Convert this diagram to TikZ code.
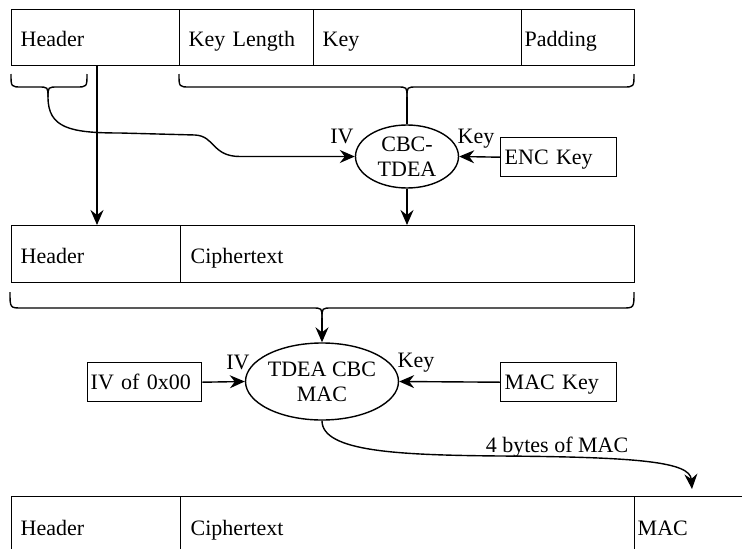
\documentclass[tikz,border=0pt]{standalone}
\usepackage{fontspec}
\setmainfont{Liberation Serif}
\usetikzlibrary{shapes.geometric,arrows.meta,calc}

\tikzset{
  ln/.style={line width=1.4pt},
  arr/.style={ln, -{Stealth[length=15pt,width=13pt,inset=5pt]}},
  cell/.style={ln, draw, anchor=north west, inner ysep=0pt,
    text height=18pt, text depth=0pt, align=left},
  smallbox/.style={ln, draw, anchor=north west, inner ysep=0pt,
    minimum height=39pt, text height=15pt, text depth=0pt, align=left},
  cipher/.style={ln, draw, ellipse, inner sep=0pt, align=center},
  lbl/.style={anchor=base, inner sep=0pt},
}

\begin{document}
\begin{tikzpicture}[x=1pt, y=-1pt, font=\fontsize{22}{25}\selectfont]
\clip (0,0) rectangle (742,549);

% ---- plaintext record ----
\node[cell, minimum height=56pt, inner xsep=9pt, text width=150pt] (r1h) at (11,9) {Header};
\node[cell, minimum height=56pt, inner xsep=9pt, text width=116pt] (r1l) at (179,9) {Key Length};
\node[cell, minimum height=56pt, inner xsep=9pt, text width=190pt] (r1k) at (313,9) {Key};
\node[cell, minimum height=56pt, inner xsep=3pt, text width=107pt] (r1p) at (521,9) {Padding};

% ---- encrypted record ----
\node[cell, minimum height=57pt, inner xsep=9pt, text width=151pt] (r2h) at (11,225) {Header};
\node[cell, minimum height=57pt, inner xsep=10pt, text width=434pt] (r2c) at (180,225) {Ciphertext};

% ---- record with MAC ----
\node[cell, minimum height=60pt, inner xsep=9pt, text width=151pt] (r3h) at (11,496) {Header};
\node[cell, minimum height=60pt, inner xsep=10pt, text width=434pt] (r3c) at (180,496) {Ciphertext};
\node[cell, minimum height=60pt, inner xsep=3pt, text width=160pt] (r3m) at (634,496) {MAC};

% ---- cipher blocks ----
\node[cipher, minimum width=103pt, minimum height=63pt] (e1) at (407,156.5) {CBC-\\TDEA};
\node[smallbox, inner xsep=4pt, text width=108pt] (enck) at (500,137) {ENC Key};

\node[cipher, minimum width=139pt, minimum height=77pt] (e2) at (322,381.5) {TDEA CBC\\MAC};
\node[smallbox, inner xsep=3pt, text width=108pt] (iv0) at (87,362) {IV of 0x00};
\node[smallbox, inner xsep=4pt, text width=108pt] (mack) at (500,362) {MAC Key};

% ---- braces ----
% under the header
\draw[ln] (11,74) .. controls (11,87) .. (22,87) -- (38,87) .. controls (48,87) .. (48,97);
\draw[ln] (87,74) .. controls (87,87) .. (76,87) -- (58,87) .. controls (48,87) .. (48,97);
\coordinate (b1) at (48,97);
% under key length, key and padding
\draw[ln] (179,74) .. controls (179,87) .. (190,87) -- (397,87) .. controls (407,87) .. (407,97);
\draw[ln] (634,74) .. controls (634,87) .. (623,87) -- (417,87) .. controls (407,87) .. (407,97);
\coordinate (b2) at (407,97);
% under the encrypted record
\draw[ln] (10,292) .. controls (10,308) .. (22,308) -- (312,308) .. controls (322,308) .. (322,318);
\draw[ln] (634,292) .. controls (634,308) .. (622,308) -- (332,308) .. controls (322,308) .. (322,318);
\coordinate (b3) at (322,318);

% ---- connectors ----
\draw[arr] (b1) .. controls (48,128) and (70,133) .. (120,133) -- (195,135)
  .. controls (215,136) and (212,156.5) .. (240,156.5) -- (e1.west);
\draw[ln] (b2) -- (e1.north);
\draw[arr] (enck.west) -- (e1.east);
\coordinate (hd) at (97,65);
\draw[arr] (hd) -- (hd |- r2h.north);
\draw[arr] (e1.south) -- (e1.south |- r2c.north);

\draw[arr] (b3) -- (e2.north);
\draw[arr] (iv0.east) -- (e2.west);
\draw[arr] (mack.west) -- (e2.east);
\coordinate (macin) at (692,489);
\draw[arr] (e2.south) .. controls (322,452) and (400,455) .. (500,456)
  .. controls (640,457) and (690,462) .. (macin);

% ---- labels ----
\node[lbl] (l1) at (342,143) {IV};
\node[lbl] (l2) at (476,143) {Key};
\node[lbl] (l3) at (238,369) {IV};
\node[lbl] (l4) at (416,367) {Key};
\node[lbl] (l5) at (557,452) {4 bytes of MAC};
\end{tikzpicture}
\end{document}
